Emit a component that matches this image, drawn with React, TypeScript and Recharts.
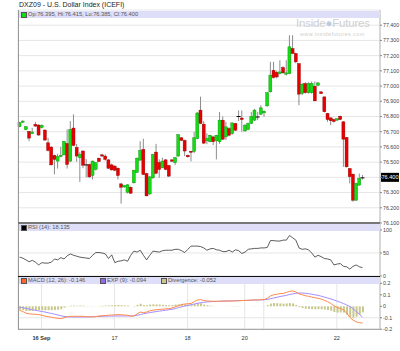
import { ComposedChart, Bar, Line, XAxis, YAxis, CartesianGrid, ReferenceLine } from "recharts"

// hourly bars, index 0 = first bar on the chart
const dayTicks = [6.9, 29.9, 52.9, 70.9, 76.9, 99.9]
const dayLabels = ["16 Sep", "17", "18", "20", "", "22"]

const openPrices = [
  76.733, 76.762, 76.713, 76.702, 76.687, 76.748, 76.744, 76.727, 76.711, 76.627,
  76.599, 76.544, 76.507, 76.536, 76.548, 76.623, 76.507, 76.724, 76.597, 76.529,
  76.573, 76.485, 76.485, 76.412, 76.452, 76.526, 76.548, 76.540, 76.515, 76.482,
  76.474, 76.460, 76.357, 76.337, 76.302, 76.335, 76.364, 76.432, 76.513, 76.584,
  76.425, 76.291, 76.397, 76.566, 76.498, 76.463, 76.515, 76.478, 76.515, 76.496,
  76.540, 76.660, 76.643, 76.545, 76.572, 76.570, 76.655, 76.842, 76.750, 76.640,
  76.634, 76.666, 76.640, 76.634, 76.776, 76.666, 76.721, 76.688, 76.754, 76.800,
  76.790, 76.705, 76.715, 76.754, 76.776, 76.800, 76.815, 76.824, 76.870, 76.962,
  77.104, 77.090, 77.082, 77.122, 77.078, 77.082, 77.247, 77.214, 77.148, 76.951,
  77.017, 76.956, 76.956, 76.999, 77.004, 76.962, 76.929, 76.820, 76.791, 76.780,
  76.776, 76.802, 76.765, 76.662, 76.458, 76.421, 76.250, 76.349, 76.395,
]
const highPrices = [
  76.765, 76.775, 76.737, 76.705, 76.726, 76.764, 76.748, 76.748, 76.715, 76.660,
  76.605, 76.550, 76.555, 76.600, 76.640, 76.715, 76.770, 76.814, 76.620, 76.566,
  76.578, 76.520, 76.490, 76.510, 76.500, 76.530, 76.555, 76.551, 76.520, 76.490,
  76.480, 76.465, 76.364, 76.350, 76.355, 76.340, 76.450, 76.530, 76.638, 76.654,
  76.430, 76.410, 76.555, 76.620, 76.518, 76.529, 76.520, 76.482, 76.518, 76.533,
  76.685, 76.665, 76.648, 76.550, 76.575, 76.700, 76.830, 76.930, 76.770, 76.690,
  76.680, 76.670, 76.680, 76.830, 76.800, 76.765, 76.730, 76.760, 76.758, 76.840,
  76.840, 76.750, 76.760, 76.830, 76.850, 76.830, 76.874, 76.840, 76.960, 77.159,
  77.159, 77.100, 77.170, 77.130, 77.170, 77.334, 77.334, 77.220, 77.150, 77.020,
  77.025, 77.025, 77.030, 77.030, 77.025, 76.965, 76.930, 76.824, 76.795, 76.785,
  76.790, 76.806, 76.770, 76.665, 76.462, 76.425, 76.365, 76.425, 76.415,
]
const lowPrices = [
  76.730, 76.758, 76.710, 76.638, 76.684, 76.732, 76.675, 76.722, 76.642, 76.570,
  76.478, 76.420, 76.458, 76.532, 76.545, 76.458, 76.500, 76.605, 76.502, 76.370,
  76.460, 76.400, 76.397, 76.386, 76.445, 76.500, 76.535, 76.510, 76.455, 76.445,
  76.440, 76.386, 76.227, 76.330, 76.295, 76.291, 76.360, 76.430, 76.510, 76.415,
  76.276, 76.285, 76.390, 76.420, 76.397, 76.460, 76.447, 76.403, 76.502, 76.480,
  76.535, 76.638, 76.540, 76.530, 76.505, 76.560, 76.650, 76.750, 76.618, 76.618,
  76.630, 76.612, 76.518, 76.620, 76.645, 76.645, 76.670, 76.680, 76.705, 76.770,
  76.700, 76.700, 76.710, 76.750, 76.770, 76.776, 76.810, 76.798, 76.864, 76.958,
  77.050, 77.050, 77.076, 77.080, 77.070, 77.078, 77.210, 77.150, 76.874, 76.940,
  76.950, 76.950, 76.950, 76.900, 77.000, 76.947, 76.826, 76.765, 76.743, 76.760,
  76.770, 76.776, 76.469, 76.465, 76.360, 76.240, 76.245, 76.345, 76.385,
]
const closePrices = [
  76.759, 76.770, 76.733, 76.658, 76.698, 76.737, 76.678, 76.742, 76.645, 76.577,
  76.482, 76.518, 76.537, 76.545, 76.636, 76.485, 76.715, 76.610, 76.540, 76.551,
  76.480, 76.485, 76.403, 76.507, 76.496, 76.504, 76.540, 76.518, 76.460, 76.449,
  76.447, 76.412, 76.335, 76.346, 76.351, 76.296, 76.447, 76.526, 76.577, 76.419,
  76.278, 76.403, 76.551, 76.427, 76.452, 76.507, 76.452, 76.408, 76.506, 76.529,
  76.680, 76.643, 76.573, 76.535, 76.564, 76.660, 76.823, 76.754, 76.625, 76.656,
  76.677, 76.634, 76.677, 76.776, 76.651, 76.732, 76.677, 76.758, 76.710, 76.803,
  76.780, 76.743, 76.754, 76.800, 76.842, 76.800, 76.857, 76.835, 76.956, 77.072,
  77.056, 77.060, 77.093, 77.087, 77.087, 77.258, 77.214, 77.159, 76.947, 77.012,
  76.956, 77.017, 77.017, 76.903, 77.021, 76.951, 76.831, 76.780, 76.772, 76.767,
  76.785, 76.780, 76.651, 76.469, 76.404, 76.250, 76.360, 76.393, 76.400,
]
const rsiValues = [
  41, 39, 35, 31, 34, 30, 24, 29, 28, 28, 30, 37, 35, 40, 37, 44, 48, 45, 43, 41,
  40, 39, 38, 45, 51, 51, 50, 48, 38, 46, 29, 32, 33, 35, 32, 45, 54, 52, 56, 45,
  35, 45, 54, 53, 52, 55, 56, 56, 56, 58, 58, 55, 51, 58, 65, 65, 65, 64, 61, 56,
  59, 60, 57, 56, 53, 53, 56, 52, 57, 55, 49, 52, 58, 59, 60, 60, 61, 61, 62, 77,
  77, 76, 76, 78, 78, 88, 83, 78, 61, 58, 59, 57, 50, 41, 45, 42, 38, 37, 35, 24,
  26, 27, 21, 20, 15, 21, 24, 20, 18.135,
]
const macdValues = [
  -0.035, -0.045, -0.06, -0.065, -0.068, -0.07, -0.072, -0.078, -0.085, -0.09,
  -0.095, -0.1, -0.105, -0.107, -0.1, -0.09, -0.087, -0.087, -0.088, -0.087,
  -0.087, -0.09, -0.092, -0.092, -0.09, -0.085, -0.082, -0.08, -0.078, -0.076,
  -0.074, -0.072, -0.074, -0.076, -0.078, -0.085, -0.085, -0.065, -0.05, -0.055,
  -0.05, -0.04, -0.033, -0.03, -0.027, -0.025, -0.023, -0.02, -0.015, -0.005,
  0.005, 0.015, 0.02, 0.022, 0.025, 0.04, 0.055, 0.058, 0.05, 0.047,
  0.045, 0.044, 0.043, 0.044, 0.045, 0.045, 0.046, 0.046, 0.047, 0.048,
  0.05, 0.051, 0.052, 0.054, 0.055, 0.056, 0.057, 0.058, 0.07, 0.09,
  0.1, 0.105, 0.11, 0.112, 0.12, 0.13, 0.133, 0.125, 0.108, 0.1,
  0.092, 0.087, 0.08, 0.074, 0.07, 0.062, 0.052, 0.04, 0.025, 0.005,
  -0.01, -0.018, -0.03, -0.06, -0.095, -0.12, -0.135, -0.142, -0.146,
]
const expValues = [
  -0.006, -0.012, -0.018, -0.024, -0.03, -0.035, -0.04, -0.045, -0.05, -0.056,
  -0.062, -0.068, -0.075, -0.082, -0.088, -0.092, -0.093, -0.093, -0.093, -0.093,
  -0.093, -0.092, -0.091, -0.09, -0.089, -0.088, -0.087, -0.086, -0.085, -0.085,
  -0.084, -0.084, -0.084, -0.084, -0.084, -0.084, -0.082, -0.078, -0.072, -0.066,
  -0.06, -0.055, -0.05, -0.046, -0.042, -0.038, -0.034, -0.03, -0.026, -0.02,
  -0.012, -0.005, 0.002, 0.008, 0.014, 0.02, 0.026, 0.031, 0.035, 0.038,
  0.04, 0.042, 0.043, 0.044, 0.045, 0.046, 0.047, 0.048, 0.049, 0.05,
  0.05, 0.051, 0.052, 0.053, 0.054, 0.055, 0.056, 0.057, 0.06, 0.066,
  0.072, 0.078, 0.085, 0.09, 0.095, 0.102, 0.108, 0.113, 0.116, 0.115,
  0.113, 0.11, 0.105, 0.1, 0.095, 0.088, 0.08, 0.072, 0.064, 0.055,
  0.045, 0.035, 0.024, 0.012, -0.002, -0.02, -0.045, -0.07, -0.094,
]
const divergenceValues = [
  -0.029, -0.033, -0.042, -0.041, -0.038, -0.035, -0.032, -0.033, -0.035, -0.034,
  -0.033, -0.032, -0.03, -0.025, -0.012, 0.002, 0.006, 0.006, 0.005, 0.006,
  0.006, 0.002, -0.001, -0.002, -0.001, 0.003, 0.005, 0.006, 0.007, 0.009,
  0.01, 0.012, 0.01, 0.008, 0.006, -0.001, -0.003, 0.013, 0.022, 0.011,
  0.01, 0.015, 0.017, 0.016, 0.015, 0.013, 0.011, 0.01, 0.011, 0.015,
  0.017, 0.02, 0.018, 0.014, 0.011, 0.02, 0.029, 0.027, 0.015, 0.009,
  0.005, 0.002, 0, 0, 0, -0.001, -0.001, -0.002, -0.002, -0.002,
  0, 0, 0, 0.001, 0.001, 0.001, 0.001, 0.001, 0.01, 0.024,
  0.028, 0.027, 0.025, 0.022, 0.025, 0.028, 0.025, 0.012, -0.008, -0.015,
  -0.021, -0.023, -0.025, -0.026, -0.025, -0.026, -0.028, -0.032, -0.039, -0.05,
  -0.055, -0.053, -0.054, -0.072, -0.093, -0.1, -0.09, -0.072, -0.052,
]

const priceTicks = [76.1, 76.2, 76.3, 76.4, 76.5, 76.6, 76.7, 76.8, 76.9, 77.0, 77.1, 77.2, 77.3, 77.4]

const rows = openPrices.map((o, i) => ({
  i,
  open: o,
  high: highPrices[i],
  low: lowPrices[i],
  close: closePrices[i],
  rsi: rsiValues[i],
  macd: macdValues[i],
  exp: expValues[i],
  divergence: divergenceValues[i],
}))

const lastClose = closePrices[closePrices.length - 1]
const FONT = "'Liberation Sans', Arial, sans-serif"
const X_DOMAIN: [number, number] = [-0.5, 113.5]
const tickStyle = { fontSize: 5.3, fill: "#444", fontFamily: FONT }

function Candle(props: any) {
  const { x, y, width, height, payload } = props
  if (!payload || height == null) return null
  const top = Math.min(y, y + height)
  const span = Math.abs(height)
  const range = payload.high - payload.low
  const k = range > 0 ? span / range : 0
  const hi = Math.max(payload.open, payload.close)
  const lo = Math.min(payload.open, payload.close)
  const cx = x + width / 2
  const bodyTop = top + (payload.high - hi) * k
  const bodyH = Math.max((hi - lo) * k, 1)
  const doji = hi - lo < 0.006
  const up = payload.close > payload.open
  return (
    <g>
      <line x1={cx} x2={cx} y1={top} y2={top + span} stroke="#8c8c8c" strokeWidth={1} />
      {doji ? (
        <line x1={x - 0.5} x2={x + width + 0.5} y1={bodyTop + bodyH / 2} y2={bodyTop + bodyH / 2} stroke="#000" strokeWidth={1} />
      ) : (
        <rect x={x} y={bodyTop} width={width} height={bodyH}
          fill={up ? "#12dc12" : "#e80000"} stroke={up ? "#0a8a0a" : "#8a0000"} strokeWidth={0.4} />
      )}
    </g>
  )
}

// black box with the last close, sits on the right axis over its own tick
function PriceTag(props: any) {
  const vb = props.viewBox
  if (!vb) return null
  const x = vb.x + vb.width + 1
  return (
    <g>
      <rect x={x} y={vb.y - 4.5} width={18} height={9} fill="#000" />
      <text x={x + 9} y={vb.y + 2} fill="#fff" fontSize={5.6} textAnchor="middle" fontFamily={FONT}>
        {lastClose.toFixed(3)}
      </text>
    </g>
  )
}

function DayTick(props: any) {
  const { x, y, payload } = props
  const idx = dayTicks.indexOf(payload.value)
  return (
    <text x={x} y={y} dy={3} textAnchor="middle" fontSize={5.6} fill="#333" fontFamily={FONT}
      fontWeight={idx === 0 ? "bold" : "normal"}>
      {dayLabels[idx]}
    </text>
  )
}

const band: React.CSSProperties = {
  position: "absolute", left: 19, width: 361, height: 7, background: "#dedef8",
  fontSize: 5.7, color: "#555", lineHeight: "7px", whiteSpace: "nowrap",
}
const sq = (c: string, left: number): React.CSSProperties => ({
  position: "absolute", left, top: 1, width: 4, height: 4, background: c, border: "0.5px solid #555",
})

export default function App() {
  return (
    <div style={{ position: "fixed", left: 0, top: 0, width: 400, height: 351, background: "#fff", fontFamily: FONT }}>
      <div style={{ position: "absolute", left: 19, top: 1, fontSize: 7, color: "#222", whiteSpace: "nowrap" }}>
        DXZ09 - U.S. Dollar Index (ICEFI)
      </div>

      {/* price panel */}
      <div style={{ position: "absolute", left: 0, top: 0 }}>
        <ComposedChart width={400} height={233} data={rows} margin={{ top: 10, right: 0, bottom: 10, left: 18 }}>
          <CartesianGrid stroke="#e6e6e6" strokeWidth={1} />
          <XAxis type="number" dataKey="i" domain={X_DOMAIN} ticks={dayTicks} height={0}
            tick={false} tickLine={false} axisLine={false} />
          <YAxis orientation="right" width={20} domain={[76.1, 77.5]} ticks={priceTicks}
            tickFormatter={(v: number) => (v === lastClose ? "" : v.toFixed(3))} tick={tickStyle}
            tickSize={2} tickMargin={1} axisLine={{ stroke: "#bbb" }} tickLine={{ stroke: "#888" }} interval={0} />
          <Bar dataKey={(d: any) => [d.low, d.high]} barSize={3} shape={<Candle />} isAnimationActive={false} />
          <ReferenceLine y={lastClose} stroke="none" label={<PriceTag />} />
        </ComposedChart>
      </div>
      <div style={{ position: "absolute", left: 296, top: 17, color: "#cfcfcf", fontSize: 11.5, whiteSpace: "nowrap", letterSpacing: -0.2 }}>
        Inside<span style={{ color: "#b9cde6" }}>●</span>Futures
      </div>
      <div style={{ position: "absolute", left: 300, top: 31, color: "#cfcfcf", fontSize: 5.4, whiteSpace: "nowrap", letterSpacing: 0.45 }}>
        www.insidefutures.com
      </div>
      <div style={{ ...band, top: 11 }}>
        <span style={sq("#12dc12", 2)} />
        <span style={{ position: "absolute", left: 9 }}>Op:76.395, Hi:76.415, Lo:76.385, Cl:76.400</span>
      </div>

      {/* RSI panel */}
      <div style={{ position: "absolute", left: 0, top: 213 }}>
        <ComposedChart width={400} height={73} data={rows} margin={{ top: 10, right: 0, bottom: 10, left: 18 }}>
          <CartesianGrid stroke="#e6e6e6" strokeWidth={1} />
          <XAxis type="number" dataKey="i" domain={X_DOMAIN} ticks={dayTicks} height={0}
            tick={false} tickLine={false} axisLine={false} />
          <YAxis orientation="right" width={20} domain={[0, 115.2]} ticks={[0, 50, 100]}
            tick={tickStyle} tickSize={2} tickMargin={1} axisLine={{ stroke: "#bbb" }} tickLine={{ stroke: "#888" }} />
          <Line type="linear" dataKey="rsi" stroke="#333" strokeWidth={0.8} dot={false} isAnimationActive={false} />
        </ComposedChart>
      </div>
      <div style={{ ...band, top: 224 }}>
        <span style={sq("#000", 2)} />
        <span style={{ position: "absolute", left: 9 }}>RSI (14): 18.135</span>
      </div>

      {/* MACD panel */}
      <div style={{ position: "absolute", left: 0, top: 266 }}>
        <ComposedChart width={400} height={85} data={rows} margin={{ top: 10, right: 0, bottom: 0, left: 18 }}>
          <CartesianGrid stroke="#e6e6e6" strokeWidth={1} />
          <XAxis type="number" dataKey="i" domain={X_DOMAIN} ticks={dayTicks} height={21.7}
            tick={<DayTick />} tickLine={false} axisLine={{ stroke: "#999" }} tickMargin={2} interval={0} />
          <YAxis orientation="right" width={20} domain={[-0.2, 0.2635]} ticks={[-0.2, -0.1, 0, 0.1, 0.2]}
            tickFormatter={(v: number) => (v === 0 ? "0" : String(v))} tick={tickStyle} tickSize={2} tickMargin={1}
            axisLine={{ stroke: "#bbb" }} tickLine={{ stroke: "#888" }} />
          <Bar dataKey="divergence" fill="#c8c88e" barSize={2} isAnimationActive={false} />
          <Line type="linear" dataKey="exp" stroke="#a58cff" strokeWidth={1} dot={false} isAnimationActive={false} />
          <Line type="linear" dataKey="macd" stroke="#ff8a4c" strokeWidth={1} dot={false} isAnimationActive={false} />
        </ComposedChart>
      </div>
      <div style={{ ...band, top: 277 }}>
        <span style={sq("#ff6a2a", 2)} />
        <span style={{ position: "absolute", left: 9 }}>MACD (12, 26): -0.146</span>
        <span style={sq("#8f6ae8", 81)} />
        <span style={{ position: "absolute", left: 88 }}>EXP (9): -0.094</span>
        <span style={sq("#c8c88e", 142)} />
        <span style={{ position: "absolute", left: 149 }}>Divergence: -0.052</span>
      </div>

      {/* panel borders */}
      <div style={{ position: "absolute", left: 18, top: 10, width: 1, height: 320, background: "#999" }} />
      <div style={{ position: "absolute", left: 18, top: 222, width: 362, height: 1.5, background: "#777" }} />
      <div style={{ position: "absolute", left: 18, top: 275.5, width: 362, height: 1.5, background: "#111" }} />
    </div>
  )
}
